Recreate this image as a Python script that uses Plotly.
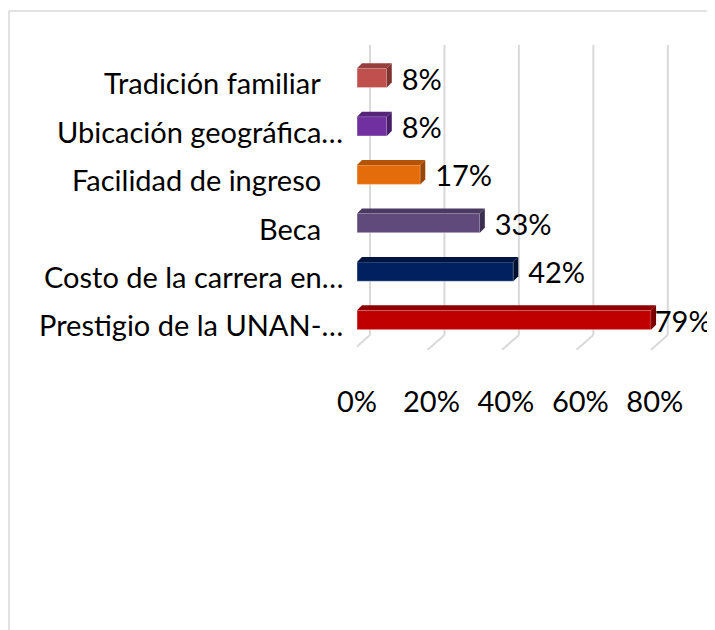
import plotly.graph_objects as go

# Data (bottom to top, as plotted)
categories = [
    "Prestigio de la UNAN-…",
    "Costo de la carrera en…",
    "Beca",
    "Facilidad de ingreso",
    "Ubicación geográfica…",
    "Tradición familiar",
]
values = [0.79, 0.42, 0.33, 0.17, 0.08, 0.08]
labels = ["79%", "42%", "33%", "17%", "8%", "8%"]
front_colors = ["#C00000", "#002060", "#604A7B", "#E46C0A", "#7030A0", "#C0504D"]
top_colors = ["#8E0000", "#001540", "#4A3960", "#B45408", "#55247A", "#973F3C"]
side_colors = ["#7A0000", "#00102F", "#3C2E4F", "#9A4706", "#461D66", "#7F3432"]
tick_vals = [0, 0.2, 0.4, 0.6, 0.8]
tick_text = ["0%", "20%", "40%", "60%", "80%"]

# page body adds an 8px offset, margins are set against that
W, H = 715, 630
L, R, T, B = 349, 31, 37, 288
X_MAX = 0.9
Y_MIN, Y_MAX = -0.62, 5.68
px_x = (W - L - R) / X_MAX
px_y = (H - T - B) / (Y_MAX - Y_MIN)

BAR_H = 0.4
dx, dy = 5 / px_x, 5 / px_y          # bar depth bevel
gdx, gdy = 13 / px_x, 15 / px_y      # back wall offset
FONT = "Lato"
FS = 29

ypos = list(range(len(categories)))

fig = go.Figure()
fig.add_trace(go.Bar(
    x=values, y=ypos, orientation="h", width=BAR_H,
    marker=dict(color=front_colors, line=dict(width=0.8, color="rgba(255,255,255,0.5)")),
    hoverinfo="skip",
))

shapes = []
# back wall gridlines + floor diagonals
for t in tick_vals:
    shapes.append(dict(type="line", xref="x", yref="y",
                       x0=t + gdx, x1=t + gdx, y0=Y_MIN + gdy, y1=Y_MAX,
                       line=dict(color="#D9D9D9", width=2), layer="below"))
    shapes.append(dict(type="line", xref="x", yref="y",
                       x0=t - 4 / px_x, x1=t + gdx, y0=Y_MIN, y1=Y_MIN + gdy,
                       line=dict(color="#D9D9D9", width=2), layer="below"))

# 3D faces of the bars
for y, v, ct, cs in zip(ypos, values, top_colors, side_colors):
    yt = y + BAR_H / 2
    yb = y - BAR_H / 2
    shapes.append(dict(type="path", xref="x", yref="y", line=dict(width=0),
                       fillcolor=ct,
                       path=f"M0,{yt} L{v},{yt} L{v + dx},{yt + dy} L{dx},{yt + dy} Z"))
    shapes.append(dict(type="path", xref="x", yref="y", line=dict(width=0),
                       fillcolor=cs,
                       path=f"M{v},{yb} L{v},{yt} L{v + dx},{yt + dy} L{v + dx},{yb + dy} Z"))

# chart border (only top and left visible in the crop)
pw, ph = W - L - R, H - T - B
bx = (1 - L) / pw
by = (H - B - 3) / ph
shapes.append(dict(type="line", xref="paper", yref="paper",
                   x0=bx, x1=(W + 20 - L) / pw, y0=by, y1=by,
                   line=dict(color="#D9D9D9", width=1.5)))
shapes.append(dict(type="line", xref="paper", yref="paper",
                   x0=bx, x1=bx, y0=by, y1=(-B - 20) / ph,
                   line=dict(color="#D9D9D9", width=1.5)))

# category labels: Excel lets the truncated ones run closer to the bars
annotations = []
for y, cat in zip(ypos, categories):
    annotations.append(dict(
        xref="paper", yref="y", x=0, y=y, text=cat, showarrow=False,
        xanchor="right", yanchor="middle",
        xshift=-12 if cat.endswith("…") else -34, yshift=-5,
        font=dict(family=FONT, size=FS, color="#000000"),
    ))

# data labels, kept inside the 80% wall like Excel does
label_x = [min(v + 0.04, 0.8) for v in values]
fig.add_trace(go.Scatter(
    x=label_x, y=[y - 0.09 for y in ypos], mode="text", text=labels,
    textposition="middle right", cliponaxis=False,
    textfont=dict(family=FONT, size=FS, color="#000000"),
    hoverinfo="skip",
))

fig.update_layout(
    width=W, height=H,
    margin=dict(l=L, r=R, t=T, b=B),
    paper_bgcolor="white", plot_bgcolor="white",
    showlegend=False,
    shapes=shapes,
    annotations=annotations,
    xaxis=dict(range=[0, X_MAX], tickvals=tick_vals, ticktext=tick_text,
               showgrid=False, zeroline=False, showline=False,
               ticklabelstandoff=32,
               tickfont=dict(family=FONT, size=FS, color="#000000")),
    yaxis=dict(range=[Y_MIN, Y_MAX], tickvals=ypos, showticklabels=False,
               showgrid=False, zeroline=False, showline=False),
)

fig.write_html("out.html")
